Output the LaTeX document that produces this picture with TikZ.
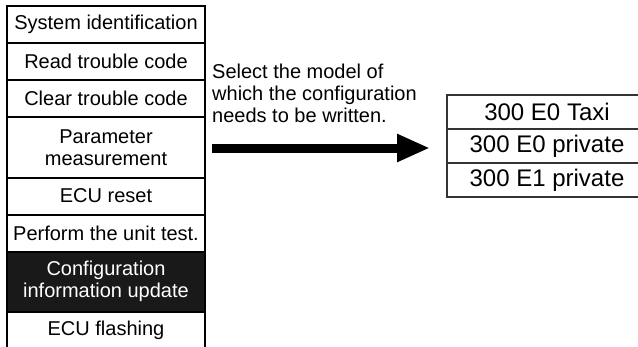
\documentclass[tikz,border=0pt]{standalone}
\usepackage{fontspec}
\setmainfont{Liberation Sans}
\usetikzlibrary{positioning,arrows.meta}

\begin{document}
\begin{tikzpicture}[
  x=1pt, y=-1pt,
  node distance=0pt,
  menu/.style={draw, line width=2pt, align=center, minimum width=198pt,
               minimum height=37pt, inner sep=0pt, outer sep=0pt,
               font=\fontsize{20}{22}\selectfont},
  tallmenu/.style={menu, minimum height=60.5pt},
  picked/.style={fill=black!90, text=white},
  model/.style={draw=black!80, line width=2.5pt, align=center, minimum width=210pt,
                minimum height=34pt, inner sep=0pt, outer sep=0pt,
                font=\fontsize{24}{26}\selectfont},
  bigarr/.style={line width=9pt, -{Triangle[length=33pt, width=26pt]}}
]
\useasboundingbox (0,0) rectangle (638,346);
\clip (0,0) rectangle (638,346);
\node[menu] at (106,24.5) (sysid) {System identification};
\node[menu, below=of sysid] (readdtc) {Read trouble code};
\node[menu, below=of readdtc] (cleardtc) {Clear trouble code};
\node[tallmenu, below=of cleardtc] (param) {Parameter\\measurement};
\node[menu, below=of param] (ecureset) {ECU reset};
\node[menu, below=of ecureset] (unittest) {Perform the unit test.};
\node[tallmenu, picked, below=of unittest] (config) {Configuration\\information update};
\node[menu, below=of config] (flash) {ECU flashing};
\node[model] at (552,112) (taxi) {\hspace*{-10pt}300 E0 Taxi};
\node[model, below=of taxi] (priv0) {\hspace*{-10pt}300 E0 private};
\node[model, below=of priv0] (priv1) {\hspace*{-10pt}300 E1 private};
\node[anchor=north west, inner sep=0pt, align=left,
      font=\fontsize{20}{22}\selectfont] at (212,64) (note)
  {Select the model of\\which the configuration\\needs to be written.};
\coordinate (start) at (212,148);
\draw[bigarr] (start) -- ([xshift=-17pt]priv0.west |- start);
\end{tikzpicture}
\end{document}
